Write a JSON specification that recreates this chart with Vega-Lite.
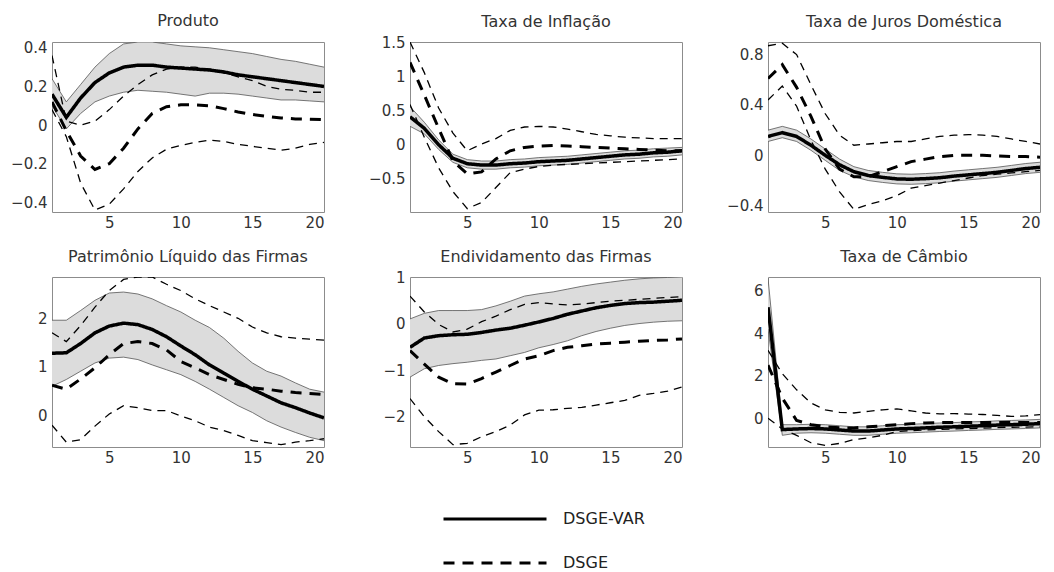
{
"$schema": "https://vega.github.io/schema/vega-lite/v6.json",
"padding": {"left": 10, "top": 12, "right": 5, "bottom": 0},
"background": "white",
"datasets": {"irf": [
{"p":"P","t":1,"vm":0.16,"vl":0.10,"vh":0.24,"dm":0.12,"dl":0.08,"dh":0.36},
{"p":"P","t":2,"vm":0.04,"vl":-0.02,"vh":0.12,"dm":-0.03,"dl":-0.06,"dh":0.02},
{"p":"P","t":3,"vm":0.14,"vl":0.06,"vh":0.21,"dm":-0.16,"dl":-0.30,"dh":0.00},
{"p":"P","t":4,"vm":0.22,"vl":0.12,"vh":0.30,"dm":-0.23,"dl":-0.44,"dh":0.02},
{"p":"P","t":5,"vm":0.27,"vl":0.15,"vh":0.37,"dm":-0.20,"dl":-0.41,"dh":0.08},
{"p":"P","t":6,"vm":0.30,"vl":0.17,"vh":0.42,"dm":-0.12,"dl":-0.33,"dh":0.15},
{"p":"P","t":7,"vm":0.31,"vl":0.18,"vh":0.43,"dm":-0.02,"dl":-0.24,"dh":0.21},
{"p":"P","t":8,"vm":0.31,"vl":0.175,"vh":0.43,"dm":0.06,"dl":-0.17,"dh":0.26},
{"p":"P","t":9,"vm":0.30,"vl":0.17,"vh":0.42,"dm":0.095,"dl":-0.125,"dh":0.29},
{"p":"P","t":10,"vm":0.295,"vl":0.16,"vh":0.41,"dm":0.105,"dl":-0.105,"dh":0.30},
{"p":"P","t":11,"vm":0.29,"vl":0.15,"vh":0.405,"dm":0.105,"dl":-0.09,"dh":0.30},
{"p":"P","t":12,"vm":0.285,"vl":0.165,"vh":0.40,"dm":0.10,"dl":-0.078,"dh":0.29},
{"p":"P","t":13,"vm":0.275,"vl":0.165,"vh":0.39,"dm":0.085,"dl":-0.085,"dh":0.27},
{"p":"P","t":14,"vm":0.26,"vl":0.16,"vh":0.38,"dm":0.068,"dl":-0.10,"dh":0.25},
{"p":"P","t":15,"vm":0.25,"vl":0.15,"vh":0.37,"dm":0.055,"dl":-0.11,"dh":0.23},
{"p":"P","t":16,"vm":0.24,"vl":0.14,"vh":0.355,"dm":0.045,"dl":-0.12,"dh":0.20},
{"p":"P","t":17,"vm":0.23,"vl":0.13,"vh":0.34,"dm":0.037,"dl":-0.13,"dh":0.185},
{"p":"P","t":18,"vm":0.22,"vl":0.13,"vh":0.33,"dm":0.032,"dl":-0.12,"dh":0.18},
{"p":"P","t":19,"vm":0.21,"vl":0.125,"vh":0.315,"dm":0.03,"dl":-0.10,"dh":0.17},
{"p":"P","t":20,"vm":0.20,"vl":0.12,"vh":0.30,"dm":0.028,"dl":-0.09,"dh":0.17},
{"p":"I","t":1,"vm":0.40,"vl":0.26,"vh":0.55,"dm":1.20,"dl":0.58,"dh":1.50},
{"p":"I","t":2,"vm":0.23,"vl":0.15,"vh":0.32,"dm":0.72,"dl":0.10,"dh":1.05},
{"p":"I","t":3,"vm":-0.01,"vl":-0.08,"vh":0.06,"dm":0.23,"dl":-0.35,"dh":0.53},
{"p":"I","t":4,"vm":-0.21,"vl":-0.27,"vh":-0.15,"dm":-0.25,"dl":-0.70,"dh":0.16},
{"p":"I","t":5,"vm":-0.29,"vl":-0.35,"vh":-0.23,"dm":-0.44,"dl":-0.95,"dh":-0.10},
{"p":"I","t":6,"vm":-0.31,"vl":-0.37,"vh":-0.25,"dm":-0.41,"dl":-0.86,"dh":0.00},
{"p":"I","t":7,"vm":-0.31,"vl":-0.37,"vh":-0.25,"dm":-0.22,"dl":-0.64,"dh":0.08},
{"p":"I","t":8,"vm":-0.29,"vl":-0.35,"vh":-0.23,"dm":-0.10,"dl":-0.42,"dh":0.20},
{"p":"I","t":9,"vm":-0.28,"vl":-0.34,"vh":-0.22,"dm":-0.05,"dl":-0.37,"dh":0.25},
{"p":"I","t":10,"vm":-0.26,"vl":-0.32,"vh":-0.20,"dm":-0.03,"dl":-0.33,"dh":0.26},
{"p":"I","t":11,"vm":-0.25,"vl":-0.31,"vh":-0.19,"dm":-0.02,"dl":-0.31,"dh":0.25},
{"p":"I","t":12,"vm":-0.24,"vl":-0.30,"vh":-0.18,"dm":-0.03,"dl":-0.30,"dh":0.22},
{"p":"I","t":13,"vm":-0.22,"vl":-0.28,"vh":-0.16,"dm":-0.04,"dl":-0.29,"dh":0.18},
{"p":"I","t":14,"vm":-0.20,"vl":-0.26,"vh":-0.14,"dm":-0.05,"dl":-0.28,"dh":0.14},
{"p":"I","t":15,"vm":-0.18,"vl":-0.24,"vh":-0.12,"dm":-0.06,"dl":-0.27,"dh":0.12},
{"p":"I","t":16,"vm":-0.16,"vl":-0.22,"vh":-0.10,"dm":-0.07,"dl":-0.26,"dh":0.10},
{"p":"I","t":17,"vm":-0.15,"vl":-0.21,"vh":-0.09,"dm":-0.08,"dl":-0.25,"dh":0.09},
{"p":"I","t":18,"vm":-0.13,"vl":-0.19,"vh":-0.07,"dm":-0.09,"dl":-0.24,"dh":0.08},
{"p":"I","t":19,"vm":-0.12,"vl":-0.18,"vh":-0.06,"dm":-0.10,"dl":-0.23,"dh":0.08},
{"p":"I","t":20,"vm":-0.10,"vl":-0.16,"vh":-0.05,"dm":-0.10,"dl":-0.22,"dh":0.08},
{"p":"J","t":1,"vm":0.15,"vl":0.11,"vh":0.20,"dm":0.61,"dl":0.44,"dh":0.87},
{"p":"J","t":2,"vm":0.18,"vl":0.14,"vh":0.23,"dm":0.72,"dl":0.55,"dh":0.89},
{"p":"J","t":3,"vm":0.15,"vl":0.11,"vh":0.20,"dm":0.54,"dl":0.39,"dh":0.80},
{"p":"J","t":4,"vm":0.08,"vl":0.04,"vh":0.13,"dm":0.31,"dl":0.12,"dh":0.56},
{"p":"J","t":5,"vm":0.00,"vl":-0.04,"vh":0.05,"dm":0.05,"dl":-0.11,"dh":0.33},
{"p":"J","t":6,"vm":-0.075,"vl":-0.12,"vh":-0.03,"dm":-0.11,"dl":-0.29,"dh":0.16},
{"p":"J","t":7,"vm":-0.13,"vl":-0.17,"vh":-0.09,"dm":-0.17,"dl":-0.43,"dh":0.08},
{"p":"J","t":8,"vm":-0.16,"vl":-0.20,"vh":-0.12,"dm":-0.17,"dl":-0.39,"dh":0.09},
{"p":"J","t":9,"vm":-0.175,"vl":-0.215,"vh":-0.135,"dm":-0.13,"dl":-0.36,"dh":0.10},
{"p":"J","t":10,"vm":-0.187,"vl":-0.227,"vh":-0.147,"dm":-0.09,"dl":-0.32,"dh":0.11},
{"p":"J","t":11,"vm":-0.19,"vl":-0.23,"vh":-0.15,"dm":-0.05,"dl":-0.26,"dh":0.11},
{"p":"J","t":12,"vm":-0.185,"vl":-0.225,"vh":-0.145,"dm":-0.03,"dl":-0.24,"dh":0.13},
{"p":"J","t":13,"vm":-0.178,"vl":-0.218,"vh":-0.138,"dm":-0.01,"dl":-0.22,"dh":0.15},
{"p":"J","t":14,"vm":-0.165,"vl":-0.205,"vh":-0.125,"dm":0.00,"dl":-0.20,"dh":0.16},
{"p":"J","t":15,"vm":-0.155,"vl":-0.195,"vh":-0.115,"dm":0.00,"dl":-0.18,"dh":0.165},
{"p":"J","t":16,"vm":-0.145,"vl":-0.185,"vh":-0.105,"dm":0.00,"dl":-0.16,"dh":0.16},
{"p":"J","t":17,"vm":-0.135,"vl":-0.175,"vh":-0.095,"dm":-0.005,"dl":-0.15,"dh":0.15},
{"p":"J","t":18,"vm":-0.12,"vl":-0.16,"vh":-0.08,"dm":-0.01,"dl":-0.14,"dh":0.13},
{"p":"J","t":19,"vm":-0.105,"vl":-0.145,"vh":-0.065,"dm":-0.01,"dl":-0.13,"dh":0.11},
{"p":"J","t":20,"vm":-0.095,"vl":-0.135,"vh":-0.055,"dm":-0.015,"dl":-0.12,"dh":0.09},
{"p":"N","t":1,"vm":1.28,"vl":0.60,"vh":1.96,"dm":0.62,"dl":-0.20,"dh":1.70},
{"p":"N","t":2,"vm":1.29,"vl":0.74,"vh":1.96,"dm":0.54,"dl":-0.55,"dh":1.52},
{"p":"N","t":3,"vm":1.48,"vl":0.91,"vh":2.16,"dm":0.75,"dl":-0.50,"dh":1.85},
{"p":"N","t":4,"vm":1.70,"vl":1.08,"vh":2.37,"dm":0.98,"dl":-0.22,"dh":2.23},
{"p":"N","t":5,"vm":1.84,"vl":1.18,"vh":2.52,"dm":1.25,"dl":0.03,"dh":2.57},
{"p":"N","t":6,"vm":1.90,"vl":1.20,"vh":2.54,"dm":1.48,"dl":0.20,"dh":2.80},
{"p":"N","t":7,"vm":1.87,"vl":1.15,"vh":2.50,"dm":1.52,"dl":0.16,"dh":2.85},
{"p":"N","t":8,"vm":1.77,"vl":1.04,"vh":2.40,"dm":1.48,"dl":0.10,"dh":2.85},
{"p":"N","t":9,"vm":1.62,"vl":0.94,"vh":2.26,"dm":1.35,"dl":0.10,"dh":2.70},
{"p":"N","t":10,"vm":1.43,"vl":0.84,"vh":2.13,"dm":1.11,"dl":-0.01,"dh":2.57},
{"p":"N","t":11,"vm":1.25,"vl":0.70,"vh":1.96,"dm":0.98,"dl":-0.11,"dh":2.40},
{"p":"N","t":12,"vm":1.04,"vl":0.54,"vh":1.81,"dm":0.84,"dl":-0.24,"dh":2.26},
{"p":"N","t":13,"vm":0.87,"vl":0.37,"vh":1.59,"dm":0.74,"dl":-0.31,"dh":2.13},
{"p":"N","t":14,"vm":0.70,"vl":0.20,"vh":1.32,"dm":0.64,"dl":-0.41,"dh":2.00},
{"p":"N","t":15,"vm":0.54,"vl":0.06,"vh":1.08,"dm":0.57,"dl":-0.52,"dh":1.82},
{"p":"N","t":16,"vm":0.40,"vl":-0.11,"vh":0.91,"dm":0.54,"dl":-0.56,"dh":1.70},
{"p":"N","t":17,"vm":0.26,"vl":-0.24,"vh":0.81,"dm":0.50,"dl":-0.60,"dh":1.62},
{"p":"N","t":18,"vm":0.16,"vl":-0.35,"vh":0.67,"dm":0.47,"dl":-0.55,"dh":1.59},
{"p":"N","t":19,"vm":0.05,"vl":-0.45,"vh":0.54,"dm":0.45,"dl":-0.52,"dh":1.57},
{"p":"N","t":20,"vm":-0.05,"vl":-0.52,"vh":0.48,"dm":0.43,"dl":-0.48,"dh":1.55},
{"p":"E","t":1,"vm":-0.51,"vl":-1.15,"vh":0.10,"dm":-0.58,"dl":-1.61,"dh":0.59},
{"p":"E","t":2,"vm":-0.31,"vl":-0.97,"vh":0.22,"dm":-0.87,"dl":-2.00,"dh":0.25},
{"p":"E","t":3,"vm":-0.26,"vl":-0.90,"vh":0.28,"dm":-1.15,"dl":-2.32,"dh":-0.02},
{"p":"E","t":4,"vm":-0.24,"vl":-0.86,"vh":0.28,"dm":-1.29,"dl":-2.60,"dh":-0.18},
{"p":"E","t":5,"vm":-0.23,"vl":-0.83,"vh":0.28,"dm":-1.30,"dl":-2.57,"dh":-0.12},
{"p":"E","t":6,"vm":-0.19,"vl":-0.79,"vh":0.30,"dm":-1.18,"dl":-2.43,"dh":0.04},
{"p":"E","t":7,"vm":-0.14,"vl":-0.76,"vh":0.38,"dm":-1.04,"dl":-2.32,"dh":0.16},
{"p":"E","t":8,"vm":-0.10,"vl":-0.69,"vh":0.48,"dm":-0.90,"dl":-2.18,"dh":0.30},
{"p":"E","t":9,"vm":-0.035,"vl":-0.62,"vh":0.59,"dm":-0.76,"dl":-1.96,"dh":0.41},
{"p":"E","t":10,"vm":0.035,"vl":-0.52,"vh":0.64,"dm":-0.69,"dl":-1.86,"dh":0.45},
{"p":"E","t":11,"vm":0.11,"vl":-0.45,"vh":0.68,"dm":-0.58,"dl":-1.85,"dh":0.42},
{"p":"E","t":12,"vm":0.20,"vl":-0.37,"vh":0.74,"dm":-0.51,"dl":-1.82,"dh":0.40},
{"p":"E","t":13,"vm":0.27,"vl":-0.26,"vh":0.80,"dm":-0.475,"dl":-1.80,"dh":0.42},
{"p":"E","t":14,"vm":0.34,"vl":-0.17,"vh":0.85,"dm":-0.44,"dl":-1.75,"dh":0.45},
{"p":"E","t":15,"vm":0.39,"vl":-0.10,"vh":0.89,"dm":-0.42,"dl":-1.70,"dh":0.48},
{"p":"E","t":16,"vm":0.43,"vl":-0.04,"vh":0.93,"dm":-0.40,"dl":-1.65,"dh":0.50},
{"p":"E","t":17,"vm":0.45,"vl":0.00,"vh":0.96,"dm":-0.38,"dl":-1.54,"dh":0.52},
{"p":"E","t":18,"vm":0.46,"vl":0.03,"vh":0.98,"dm":-0.36,"dl":-1.50,"dh":0.54},
{"p":"E","t":19,"vm":0.48,"vl":0.05,"vh":0.99,"dm":-0.35,"dl":-1.45,"dh":0.56},
{"p":"E","t":20,"vm":0.50,"vl":0.06,"vh":1.00,"dm":-0.33,"dl":-1.36,"dh":0.58},
{"p":"C","t":1,"vm":5.23,"vl":4.20,"vh":6.60,"dm":2.50,"dl":0.00,"dh":3.20},
{"p":"C","t":2,"vm":-0.53,"vl":-0.80,"vh":-0.30,"dm":0.95,"dl":-0.50,"dh":2.10},
{"p":"C","t":3,"vm":-0.50,"vl":-0.70,"vh":-0.30,"dm":-0.10,"dl":-0.80,"dh":1.34},
{"p":"C","t":4,"vm":-0.48,"vl":-0.68,"vh":-0.28,"dm":-0.30,"dl":-1.15,"dh":0.72},
{"p":"C","t":5,"vm":-0.50,"vl":-0.70,"vh":-0.30,"dm":-0.40,"dl":-1.28,"dh":0.40},
{"p":"C","t":6,"vm":-0.55,"vl":-0.75,"vh":-0.35,"dm":-0.45,"dl":-1.18,"dh":0.28},
{"p":"C","t":7,"vm":-0.60,"vl":-0.80,"vh":-0.40,"dm":-0.45,"dl":-1.00,"dh":0.25},
{"p":"C","t":8,"vm":-0.60,"vl":-0.80,"vh":-0.40,"dm":-0.40,"dl":-0.92,"dh":0.33},
{"p":"C","t":9,"vm":-0.55,"vl":-0.75,"vh":-0.35,"dm":-0.35,"dl":-0.80,"dh":0.40},
{"p":"C","t":10,"vm":-0.50,"vl":-0.70,"vh":-0.30,"dm":-0.30,"dl":-0.62,"dh":0.44},
{"p":"C","t":11,"vm":-0.48,"vl":-0.68,"vh":-0.28,"dm":-0.25,"dl":-0.58,"dh":0.35},
{"p":"C","t":12,"vm":-0.45,"vl":-0.65,"vh":-0.25,"dm":-0.22,"dl":-0.55,"dh":0.25},
{"p":"C","t":13,"vm":-0.42,"vl":-0.62,"vh":-0.22,"dm":-0.20,"dl":-0.52,"dh":0.21},
{"p":"C","t":14,"vm":-0.40,"vl":-0.60,"vh":-0.20,"dm":-0.20,"dl":-0.50,"dh":0.22},
{"p":"C","t":15,"vm":-0.37,"vl":-0.57,"vh":-0.17,"dm":-0.20,"dl":-0.48,"dh":0.20},
{"p":"C","t":16,"vm":-0.35,"vl":-0.55,"vh":-0.15,"dm":-0.20,"dl":-0.46,"dh":0.18},
{"p":"C","t":17,"vm":-0.32,"vl":-0.52,"vh":-0.12,"dm":-0.20,"dl":-0.44,"dh":0.14},
{"p":"C","t":18,"vm":-0.30,"vl":-0.50,"vh":-0.10,"dm":-0.20,"dl":-0.42,"dh":0.09},
{"p":"C","t":19,"vm":-0.28,"vl":-0.48,"vh":-0.08,"dm":-0.20,"dl":-0.41,"dh":0.11},
{"p":"C","t":20,"vm":-0.25,"vl":-0.45,"vh":-0.05,"dm":-0.20,"dl":-0.40,"dh":0.17}
]},
"columns": 3,
"spacing": {"row": 65, "column": 86},
"bounds": "flush",
"concat": [
{"width": 272, "height": 170, "title": {"text": "Produto", "offset": 12}, "data": {"name": "irf"}, "transform": [{"filter": "datum.p == 'P'"}],
 "encoding": {"x": {"field": "t", "type": "quantitative", "title": null, "scale": {"domain": [1, 20], "nice": false}, "axis": {"values": [5, 10, 15, 20]}}},
 "layer": [
  {"mark": {"type": "area", "color": "#dcdcdc", "clip": true}, "encoding": {"y": {"field": "vl", "type": "quantitative", "title": null, "scale": {"domain": [-0.45, 0.43], "nice": false, "zero": false}, "axis": {"values": [-0.4, -0.2, 0, 0.2, 0.4]}}, "y2": {"field": "vh"}}},
  {"mark": {"type": "line", "color": "#555", "strokeWidth": 0.8, "clip": true}, "encoding": {"y": {"field": "vl", "type": "quantitative", "title": null}}},
  {"mark": {"type": "line", "color": "#555", "strokeWidth": 0.8, "clip": true}, "encoding": {"y": {"field": "vh", "type": "quantitative", "title": null}}},
  {"mark": {"type": "line", "color": "black", "strokeWidth": 1.3, "strokeDash": [8, 6], "clip": true}, "encoding": {"y": {"field": "dl", "type": "quantitative", "title": null}}},
  {"mark": {"type": "line", "color": "black", "strokeWidth": 1.3, "strokeDash": [8, 6], "clip": true}, "encoding": {"y": {"field": "dh", "type": "quantitative", "title": null}}},
  {"mark": {"type": "line", "color": "black", "strokeWidth": 3, "clip": true}, "encoding": {"y": {"field": "dm", "type": "quantitative", "title": null}, "strokeDash": {"datum": "DSGE", "scale": {"domain": ["DSGE-VAR", "DSGE"], "range": [[1, 0], [11, 8]]}, "legend": {"orient": "none", "legendX": 431, "legendY": 465, "title": null, "symbolType": "M-5.15,0H5.15", "symbolSize": 400, "symbolStrokeWidth": 3.2, "symbolStrokeColor": "black", "symbolFillColor": "transparent", "labelFontSize": 16, "labelColor": "#222", "rowPadding": 24, "direction": "vertical", "labelOffset": 56}}}},
  {"mark": {"type": "line", "color": "black", "strokeWidth": 3.5, "clip": true}, "encoding": {"y": {"field": "vm", "type": "quantitative", "title": null}, "strokeDash": {"datum": "DSGE-VAR"}}}
 ]},
{"width": 272, "height": 170, "title": {"text": "Taxa de Inflação", "offset": 5}, "data": {"name": "irf"}, "transform": [{"filter": "datum.p == 'I'"}],
 "encoding": {"x": {"field": "t", "type": "quantitative", "title": null, "scale": {"domain": [1, 20], "nice": false}, "axis": {"values": [5, 10, 15, 20]}}},
 "layer": [
  {"mark": {"type": "area", "color": "#dcdcdc", "clip": true}, "encoding": {"y": {"field": "vl", "type": "quantitative", "title": null, "scale": {"domain": [-1, 1.5], "nice": false, "zero": false}, "axis": {"values": [-0.5, 0, 0.5, 1, 1.5]}}, "y2": {"field": "vh"}}},
  {"mark": {"type": "line", "color": "#555", "strokeWidth": 0.8, "clip": true}, "encoding": {"y": {"field": "vl", "type": "quantitative", "title": null}}},
  {"mark": {"type": "line", "color": "#555", "strokeWidth": 0.8, "clip": true}, "encoding": {"y": {"field": "vh", "type": "quantitative", "title": null}}},
  {"mark": {"type": "line", "color": "black", "strokeWidth": 1.3, "strokeDash": [8, 6], "clip": true}, "encoding": {"y": {"field": "dl", "type": "quantitative", "title": null}}},
  {"mark": {"type": "line", "color": "black", "strokeWidth": 1.3, "strokeDash": [8, 6], "clip": true}, "encoding": {"y": {"field": "dh", "type": "quantitative", "title": null}}},
  {"mark": {"type": "line", "color": "black", "strokeWidth": 3, "clip": true}, "encoding": {"y": {"field": "dm", "type": "quantitative", "title": null}, "strokeDash": {"datum": "DSGE"}}},
  {"mark": {"type": "line", "color": "black", "strokeWidth": 3.5, "clip": true}, "encoding": {"y": {"field": "vm", "type": "quantitative", "title": null}, "strokeDash": {"datum": "DSGE-VAR"}}}
 ]},
{"width": 272, "height": 170, "title": {"text": "Taxa de Juros Doméstica", "offset": 12}, "data": {"name": "irf"}, "transform": [{"filter": "datum.p == 'J'"}],
 "encoding": {"x": {"field": "t", "type": "quantitative", "title": null, "scale": {"domain": [1, 20], "nice": false}, "axis": {"values": [5, 10, 15, 20]}}},
 "layer": [
  {"mark": {"type": "area", "color": "#dcdcdc", "clip": true}, "encoding": {"y": {"field": "vl", "type": "quantitative", "title": null, "scale": {"domain": [-0.45, 0.9], "nice": false, "zero": false}, "axis": {"values": [-0.4, -0.2, 0, 0.2, 0.4, 0.6, 0.8]}}, "y2": {"field": "vh"}}},
  {"mark": {"type": "line", "color": "#555", "strokeWidth": 0.8, "clip": true}, "encoding": {"y": {"field": "vl", "type": "quantitative", "title": null}}},
  {"mark": {"type": "line", "color": "#555", "strokeWidth": 0.8, "clip": true}, "encoding": {"y": {"field": "vh", "type": "quantitative", "title": null}}},
  {"mark": {"type": "line", "color": "black", "strokeWidth": 1.3, "strokeDash": [8, 6], "clip": true}, "encoding": {"y": {"field": "dl", "type": "quantitative", "title": null}}},
  {"mark": {"type": "line", "color": "black", "strokeWidth": 1.3, "strokeDash": [8, 6], "clip": true}, "encoding": {"y": {"field": "dh", "type": "quantitative", "title": null}}},
  {"mark": {"type": "line", "color": "black", "strokeWidth": 3, "clip": true}, "encoding": {"y": {"field": "dm", "type": "quantitative", "title": null}, "strokeDash": {"datum": "DSGE"}}},
  {"mark": {"type": "line", "color": "black", "strokeWidth": 3.5, "clip": true}, "encoding": {"y": {"field": "vm", "type": "quantitative", "title": null}, "strokeDash": {"datum": "DSGE-VAR"}}}
 ]},
{"width": 272, "height": 170, "title": {"text": "Patrimônio Líquido das Firmas", "offset": 12}, "data": {"name": "irf"}, "transform": [{"filter": "datum.p == 'N'"}],
 "encoding": {"x": {"field": "t", "type": "quantitative", "title": null, "scale": {"domain": [1, 20], "nice": false}, "axis": {"values": [5, 10, 15, 20]}}},
 "layer": [
  {"mark": {"type": "area", "color": "#dcdcdc", "clip": true}, "encoding": {"y": {"field": "vl", "type": "quantitative", "title": null, "scale": {"domain": [-0.65, 2.85], "nice": false, "zero": false}, "axis": {"values": [0, 1, 2]}}, "y2": {"field": "vh"}}},
  {"mark": {"type": "line", "color": "#555", "strokeWidth": 0.8, "clip": true}, "encoding": {"y": {"field": "vl", "type": "quantitative", "title": null}}},
  {"mark": {"type": "line", "color": "#555", "strokeWidth": 0.8, "clip": true}, "encoding": {"y": {"field": "vh", "type": "quantitative", "title": null}}},
  {"mark": {"type": "line", "color": "black", "strokeWidth": 1.3, "strokeDash": [8, 6], "clip": true}, "encoding": {"y": {"field": "dl", "type": "quantitative", "title": null}}},
  {"mark": {"type": "line", "color": "black", "strokeWidth": 1.3, "strokeDash": [8, 6], "clip": true}, "encoding": {"y": {"field": "dh", "type": "quantitative", "title": null}}},
  {"mark": {"type": "line", "color": "black", "strokeWidth": 3, "clip": true}, "encoding": {"y": {"field": "dm", "type": "quantitative", "title": null}, "strokeDash": {"datum": "DSGE"}}},
  {"mark": {"type": "line", "color": "black", "strokeWidth": 3.5, "clip": true}, "encoding": {"y": {"field": "vm", "type": "quantitative", "title": null}, "strokeDash": {"datum": "DSGE-VAR"}}}
 ]},
{"width": 272, "height": 170, "title": {"text": "Endividamento das Firmas", "offset": 5}, "data": {"name": "irf"}, "transform": [{"filter": "datum.p == 'E'"}],
 "encoding": {"x": {"field": "t", "type": "quantitative", "title": null, "scale": {"domain": [1, 20], "nice": false}, "axis": {"values": [5, 10, 15, 20]}}},
 "layer": [
  {"mark": {"type": "area", "color": "#dcdcdc", "clip": true}, "encoding": {"y": {"field": "vl", "type": "quantitative", "title": null, "scale": {"domain": [-2.65, 1.0], "nice": false, "zero": false}, "axis": {"values": [-2, -1, 0, 1]}}, "y2": {"field": "vh"}}},
  {"mark": {"type": "line", "color": "#555", "strokeWidth": 0.8, "clip": true}, "encoding": {"y": {"field": "vl", "type": "quantitative", "title": null}}},
  {"mark": {"type": "line", "color": "#555", "strokeWidth": 0.8, "clip": true}, "encoding": {"y": {"field": "vh", "type": "quantitative", "title": null}}},
  {"mark": {"type": "line", "color": "black", "strokeWidth": 1.3, "strokeDash": [8, 6], "clip": true}, "encoding": {"y": {"field": "dl", "type": "quantitative", "title": null}}},
  {"mark": {"type": "line", "color": "black", "strokeWidth": 1.3, "strokeDash": [8, 6], "clip": true}, "encoding": {"y": {"field": "dh", "type": "quantitative", "title": null}}},
  {"mark": {"type": "line", "color": "black", "strokeWidth": 3, "clip": true}, "encoding": {"y": {"field": "dm", "type": "quantitative", "title": null}, "strokeDash": {"datum": "DSGE"}}},
  {"mark": {"type": "line", "color": "black", "strokeWidth": 3.5, "clip": true}, "encoding": {"y": {"field": "vm", "type": "quantitative", "title": null}, "strokeDash": {"datum": "DSGE-VAR"}}}
 ]},
{"width": 272, "height": 170, "title": {"text": "Taxa de Câmbio", "offset": 12}, "data": {"name": "irf"}, "transform": [{"filter": "datum.p == 'C'"}],
 "encoding": {"x": {"field": "t", "type": "quantitative", "title": null, "scale": {"domain": [1, 20], "nice": false}, "axis": {"values": [5, 10, 15, 20]}}},
 "layer": [
  {"mark": {"type": "area", "color": "#dcdcdc", "clip": true}, "encoding": {"y": {"field": "vl", "type": "quantitative", "title": null, "scale": {"domain": [-1.35, 6.65], "nice": false, "zero": false}, "axis": {"values": [0, 2, 4, 6]}}, "y2": {"field": "vh"}}},
  {"mark": {"type": "line", "color": "#555", "strokeWidth": 0.8, "clip": true}, "encoding": {"y": {"field": "vl", "type": "quantitative", "title": null}}},
  {"mark": {"type": "line", "color": "#555", "strokeWidth": 0.8, "clip": true}, "encoding": {"y": {"field": "vh", "type": "quantitative", "title": null}}},
  {"mark": {"type": "line", "color": "black", "strokeWidth": 1.3, "strokeDash": [8, 6], "clip": true}, "encoding": {"y": {"field": "dl", "type": "quantitative", "title": null}}},
  {"mark": {"type": "line", "color": "black", "strokeWidth": 1.3, "strokeDash": [8, 6], "clip": true}, "encoding": {"y": {"field": "dh", "type": "quantitative", "title": null}}},
  {"mark": {"type": "line", "color": "black", "strokeWidth": 3, "clip": true}, "encoding": {"y": {"field": "dm", "type": "quantitative", "title": null}, "strokeDash": {"datum": "DSGE"}}},
  {"mark": {"type": "line", "color": "black", "strokeWidth": 3.5, "clip": true}, "encoding": {"y": {"field": "vm", "type": "quantitative", "title": null}, "strokeDash": {"datum": "DSGE-VAR"}}}
 ]}
],
"config": {
 "font": "DejaVu Sans",
 "view": {"stroke": "#8c8c8c", "strokeWidth": 1},
 "axis": {"grid": false, "domain": false, "ticks": false, "labelFontSize": 15, "labelColor": "#333", "labelPadding": 5, "labelFont": "DejaVu Sans", "labelOverlap": false, "format": "~g"},
 "axisX": {"labelPadding": 3},
 "title": {"fontSize": 16, "fontWeight": "normal", "color": "#333", "font": "DejaVu Sans"},
 "legend": {"labelFont": "DejaVu Sans"}
}
}
